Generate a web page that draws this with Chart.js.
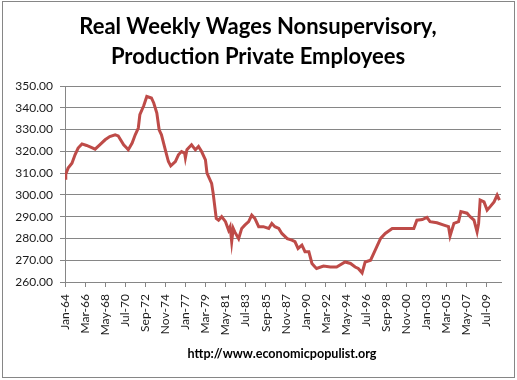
<!DOCTYPE html>
<html>
<head>
<meta charset="utf-8">
<script src="https://cdn.jsdelivr.net/npm/chart.js@4.4.0/dist/chart.umd.min.js"></script>
<style>
  html, body { margin: 0; padding: 0; background: #fff; }
</style>
</head>
<body>
<canvas id="wageChart" width="517" height="380"></canvas>
<script>
// title / source text
const titleLines = ['Real Weekly Wages Nonsupervisory,', 'Production Private Employees'];
const sourceText = 'http://www.economicpopulist.org';

// x axis: months since Jan-64, a label every 26 months
const tickMonths = [0, 26, 52, 78, 104, 130, 156, 182, 208, 234, 260, 286, 312, 338, 364, 390, 416, 442, 468, 494, 520, 546];
const tickLabels = ['Jan-64', 'Mar-66', 'May-68', 'Jul-70', 'Sep-72', 'Nov-74', 'Jan-77', 'Mar-79', 'May-81', 'Jul-83', 'Sep-85',
  'Nov-87', 'Jan-90', 'Mar-92', 'May-94', 'Jul-96', 'Sep-98', 'Nov-00', 'Jan-03', 'Mar-05', 'May-07', 'Jul-09'];

// month index and weekly wage
const months = [0, 1, 4, 9, 13, 17, 22, 28, 34, 39, 45, 52, 58, 65, 69, 76, 80, 82, 87, 91, 95, 97, 102, 106, 112, 115, 119, 122,
  125, 130, 134, 137, 143, 147, 151, 155, 156, 158, 160, 164, 169, 173, 177, 182,
  184, 190, 192, 196, 199, 203, 208, 212, 214, 216, 218, 220, 225, 229, 233, 238, 242, 246, 251, 257, 264, 268, 272, 277, 281,
  288, 294, 298, 302, 307, 311, 316, 320, 324,
  326, 335, 344, 352, 363, 370, 376, 380, 385, 389, 396, 402, 409, 415, 424, 434, 443, 452, 456, 463, 469, 473, 482, 491, 497,
  499, 504, 510, 513, 521, 525, 530, 534, 536, 538, 543, 547, 551, 556, 560, 563];
const wages = [307.6, 309.5, 312.3, 314.5, 318.4, 321.5, 323.4, 322.7, 321.8, 321.0, 323.0, 325.3, 326.8, 327.6, 327.1, 323.0, 321.5,
  320.7, 323.8, 327.6, 330.7, 336.8, 340.9, 345.2, 344.5, 342.2, 337.6, 329.9, 327.6, 320.7, 315.3, 313.3, 315.3, 318.4, 319.9, 319.2,
  317.0, 320.7, 321.5, 323.0, 320.7, 322.2, 319.9, 316.1,
  310.0, 305.3, 300.7, 289.2, 288.4, 290.0, 287.7, 283.8, 285.4, 278.5, 284.6, 283.0, 279.9, 284.6, 286.1, 287.7, 290.7, 289.2,
  285.4, 285.4, 284.6, 286.9, 285.4, 284.6, 282.3, 279.9, 279.2, 278.5, 275.4, 276.9, 273.9, 273.9, 268.5, 266.9,
  266.2, 267.3, 266.9, 266.9, 269.2, 268.5, 266.9, 266.2, 264.2, 269.2, 270.0, 274.6, 280.0, 282.3, 284.6, 284.6, 284.6, 284.6,
  288.4, 288.7, 289.7, 287.7, 287.2, 286.1, 285.4, 281.1, 286.9, 287.7, 292.3, 291.6, 290.0, 288.4, 283.0, 286.9, 297.6, 296.8,
  293.0, 294.6, 296.8, 299.9, 297.6];

const points = months.map((m, i) => ({ x: m, y: wages[i] }));

const frame = {
  id: 'frame',
  beforeDraw(chart) {
    const ctx = chart.ctx;
    ctx.save();
    ctx.fillStyle = '#fff';
    ctx.fillRect(0, 0, chart.width, chart.height);
    ctx.restore();
  },
  afterDraw(chart) {
    const ctx = chart.ctx;
    ctx.save();
    ctx.strokeStyle = '#868686';
    ctx.lineWidth = 1;
    ctx.strokeRect(2.5, 1.5, 512, 376);
    ctx.fillStyle = '#000';
    ctx.textAlign = 'center';
    ctx.textBaseline = 'middle';
    ctx.font = 'bold 22px Lato';
    ctx.fillText(titleLines[0], 258, 27);
    ctx.fillText(titleLines[1], 258, 57);
    ctx.font = 'bold 12.6px Lato';
    ctx.fillText(sourceText, 282, 354);
    ctx.restore();
  }
};

const config = {
  type: 'line',
  data: {
    datasets: [{
      label: 'Real Weekly Wages',
      data: points,
      borderColor: '#BE4B48',
      backgroundColor: '#BE4B48',
      borderWidth: 3,
      pointRadius: 0,
      tension: 0
    }]
  },
  options: {
    responsive: false,
    animation: false,
    layout: { padding: { top: 86, right: 16, bottom: 0, left: 0 } },
    plugins: {
      legend: { display: false },
      tooltip: { enabled: false }
    },
    scales: {
      x: {
        type: 'linear',
        min: 0,
        max: 565,
        afterBuildTicks: s => { s.ticks = tickMonths.map(v => ({ value: v })); },
        afterFit: s => { s.height = 98; },
        ticks: {
          autoSkip: false,
          maxRotation: 90,
          minRotation: 90,
          padding: 7,
          color: '#1a1a1a',
          font: { family: 'Lato', size: 12 },
          callback: v => tickLabels[tickMonths.indexOf(v)]
        },
        grid: { drawOnChartArea: false, drawTicks: true, tickLength: 5, color: '#868686' },
        border: { color: '#868686' }
      },
      y: {
        min: 260,
        max: 350,
        afterFit: s => { s.width = 65; },
        ticks: {
          stepSize: 10,
          padding: 7,
          color: '#1a1a1a',
          font: { family: 'Lato', size: 12 },
          callback: v => v.toFixed(2)
        },
        grid: { color: '#868686', tickLength: 5 },
        border: { color: '#868686' }
      }
    }
  },
  plugins: [frame]
};

var wageChart = new Chart(document.getElementById('wageChart'), config);
</script>
</body>
</html>
